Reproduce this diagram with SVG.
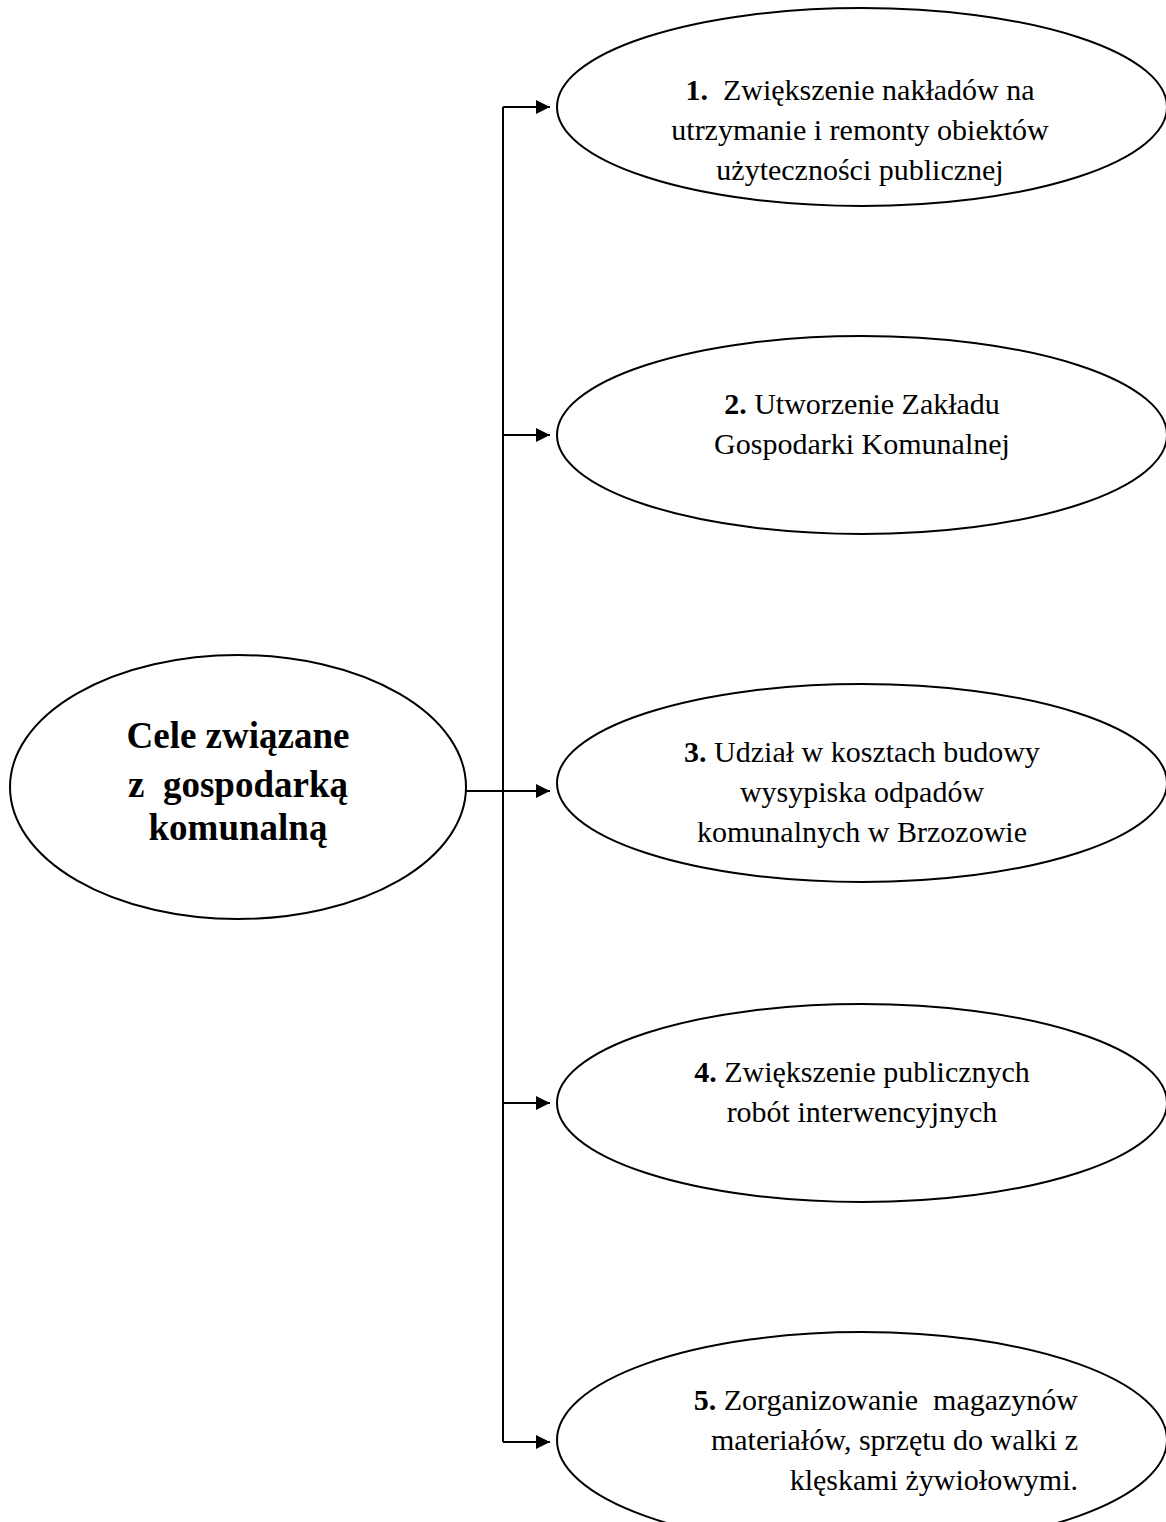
<svg xmlns="http://www.w3.org/2000/svg" width="1166" height="1522" viewBox="0 0 1166 1522">
<style>
.node{fill:#fff;stroke:#000;stroke-width:2}
.t{font-family:"Liberation Serif","Times New Roman",serif;font-size:30px;fill:#000;text-anchor:middle}
.r{text-anchor:end}
.b{font-weight:bold}
.main{font-family:"Liberation Serif","Times New Roman",serif;font-size:37px;font-weight:bold;fill:#000;text-anchor:middle}
.conn{fill:none;stroke:#000;stroke-width:2}
</style>
<defs>
<marker id="arr" markerWidth="16" markerHeight="16" refX="14" refY="7" orient="auto" markerUnits="userSpaceOnUse">
<path d="M0,0 L14,7 L0,14 Z" fill="#000"/>
</marker>
</defs>
<rect width="1166" height="1522" fill="#fff"/>
<g id="connectors">
<line class="conn" x1="503" y1="107" x2="503" y2="1442"/>
<line class="conn" x1="466" y1="791" x2="550" y2="791" marker-end="url(#arr)"/>
<line class="conn" x1="503" y1="107" x2="550" y2="107" marker-end="url(#arr)"/>
<line class="conn" x1="503" y1="435" x2="550" y2="435" marker-end="url(#arr)"/>
<line class="conn" x1="503" y1="1103" x2="550" y2="1103" marker-end="url(#arr)"/>
<line class="conn" x1="503" y1="1442" x2="550" y2="1442" marker-end="url(#arr)"/>
</g>
<g id="main">
<ellipse class="node" cx="238" cy="787" rx="228" ry="132"/>
<text class="main" x="238" y="748">Cele związane</text>
<text class="main" x="238" y="797" xml:space="preserve">z  gospodarką</text>
<text class="main" x="238" y="840">komunalną</text>
</g>
<g id="goal1">
<ellipse class="node" cx="862" cy="107" rx="305" ry="99"/>
<text class="t" x="860" y="100" xml:space="preserve"><tspan class="b">1.</tspan>  Zwiększenie nakładów na</text>
<text class="t" x="860" y="140">utrzymanie i remonty obiektów</text>
<text class="t" x="860" y="180">użyteczności publicznej</text>
</g>
<g id="goal2">
<ellipse class="node" cx="862" cy="435" rx="305" ry="99"/>
<text class="t" x="862" y="414"><tspan class="b">2.</tspan> Utworzenie Zakładu</text>
<text class="t" x="862" y="454">Gospodarki Komunalnej</text>
</g>
<g id="goal3">
<ellipse class="node" cx="862" cy="783" rx="305" ry="99"/>
<text class="t" x="862" y="762"><tspan class="b">3.</tspan> Udział w kosztach budowy</text>
<text class="t" x="862" y="802">wysypiska odpadów</text>
<text class="t" x="862" y="842">komunalnych w Brzozowie</text>
</g>
<g id="goal4">
<ellipse class="node" cx="862" cy="1103" rx="305" ry="99"/>
<text class="t" x="862" y="1082"><tspan class="b">4.</tspan> Zwiększenie publicznych</text>
<text class="t" x="862" y="1122">robót interwencyjnych</text>
</g>
<g id="goal5">
<ellipse class="node" cx="862" cy="1440" rx="305" ry="108"/>
<text class="t r" x="1078" y="1410" xml:space="preserve"><tspan class="b">5.</tspan> Zorganizowanie  magazynów</text>
<text class="t r" x="1078" y="1450">materiałów, sprzętu do walki z</text>
<text class="t r" x="1078" y="1490">klęskami żywiołowymi.</text>
</g>
</svg>
